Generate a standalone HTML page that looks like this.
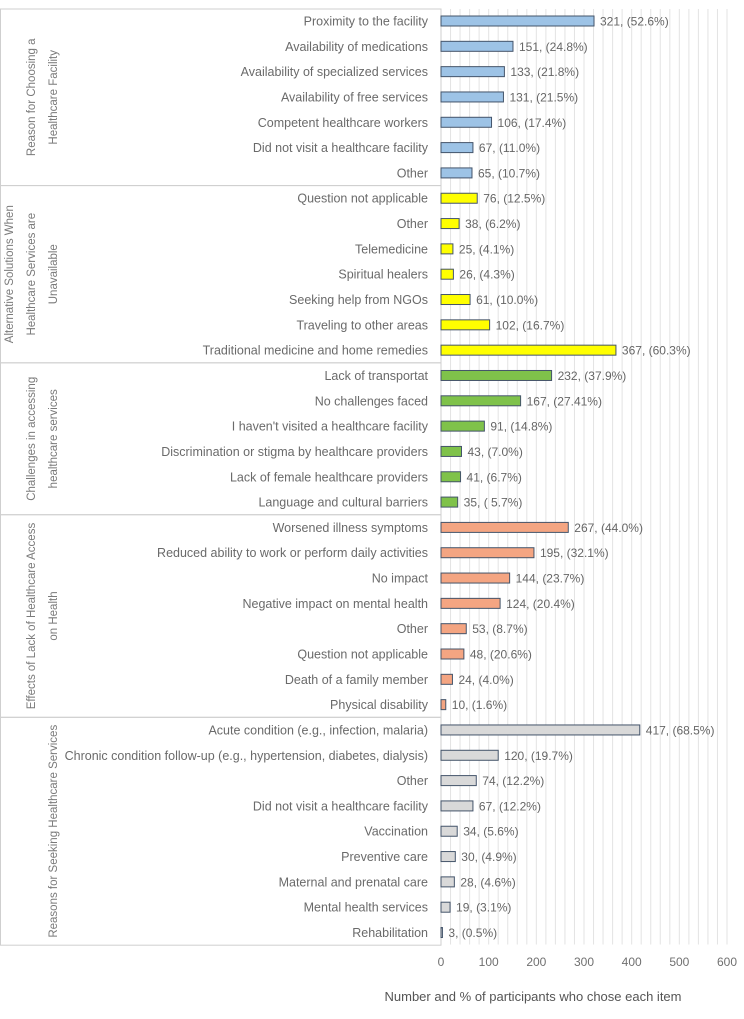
<!DOCTYPE html>
<html><head><meta charset="utf-8"><style>
body{margin:0;background:#fff;}
svg{display:block;font-family:"Liberation Sans",sans-serif;}
</style></head><body>
<svg id="chart" width="744" height="1019" viewBox="0 0 744 1019" xmlns="http://www.w3.org/2000/svg"></svg>
<script>
const groupNames=["Reason for Choosing a|Healthcare Facility","Alternative Solutions When|Healthcare Services are|Unavailable","Challenges in accessing|healthcare services","Effects of Lack of Healthcare Access|on Health","Reasons for Seeking Healthcare Services"];
const groupColors=["#9dc3e6","#ffff00","#7fc24a","#f4a582","#d9d9d9"];
const categories=[
["Proximity to the facility","Availability of medications","Availability of specialized services","Availability of free services","Competent healthcare workers","Did not visit a healthcare facility","Other"],
["Question not applicable","Other","Telemedicine","Spiritual healers","Seeking help from NGOs","Traveling to other areas","Traditional medicine and home remedies"],
["Lack of transportat","No challenges faced","I haven't visited a healthcare facility","Discrimination or stigma by healthcare providers","Lack of female healthcare providers","Language and cultural barriers"],
["Worsened illness symptoms","Reduced ability to work or perform daily activities","No impact","Negative impact on mental health","Other","Question not applicable","Death of a family member","Physical disability"],
["Acute condition (e.g., infection, malaria)","Chronic condition follow-up (e.g., hypertension, diabetes, dialysis)","Other","Did not visit a healthcare facility","Vaccination","Preventive care","Maternal and prenatal care","Mental health services","Rehabilitation"]];
const values=[[321,151,133,131,106,67,65],[76,38,25,26,61,102,367],[232,167,91,43,41,35],[267,195,144,124,53,48,24,10],[417,120,74,67,34,30,28,19,3]];
const pctLabels=[["(52.6%)","(24.8%)","(21.8%)","(21.5%)","(17.4%)","(11.0%)","(10.7%)"],["(12.5%)","(6.2%)","(4.1%)","(4.3%)","(10.0%)","(16.7%)","(60.3%)"],["(37.9%)","(27.41%)","(14.8%)","(7.0%)","(6.7%)","( 5.7%)"],["(44.0%)","(32.1%)","(23.7%)","(20.4%)","(8.7%)","(20.6%)","(4.0%)","(1.6%)"],[" (68.5%)","(19.7%)","(12.2%)","(12.2%)","(5.6%)","(4.9%)","(4.6%)","(3.1%)","(0.5%)"]];
const ticks=[0,100,200,300,400,500,600];
const svg=document.getElementById('chart');
const NS="http://www.w3.org/2000/svg";
const x0=441,x1=727,topY=9,rowH=25.32,firstY=21;
const xs=v=>x0+v/600*(x1-x0);
const ys=i=>firstY+i*rowH;
function mk(t,a){const e=document.createElementNS(NS,t);for(const k in a)e.setAttribute(k,a[k]);svg.appendChild(e);return e;}
const bottomY=ys(36)+12;
for(let v=0;v<=600;v+=20){const l=mk('line',{x1:xs(v),x2:xs(v),y1:topY,y2:bottomY,stroke:'#e3e3e3','stroke-width':1});

}
ticks.forEach(t=>{const e=mk('text',{x:xs(t),y:966,'text-anchor':'middle','font-size':12,fill:'#707070'});e.textContent=t;

});
const xt=mk('text',{x:533,y:1001,'text-anchor':'middle','font-size':13,fill:'#555'});xt.textContent="Number and % of participants who chose each item";


let idx=0;
categories.forEach((cats,g)=>{
  const gTop=idx===0?topY:ys(idx)-12.66;
  const gBot=ys(idx+cats.length-1)+12.66;
  const box=mk('rect',{x:0.5,y:gTop,width:x0-0.5,height:gBot-gTop,fill:'none',stroke:'#cfcfcf','stroke-width':1});
  
  
  const lines=groupNames[g].split('|');const cy=(gTop+gBot)/2;
  lines.forEach((ln,k)=>{const cx=54-(lines.length-1-k)*22;
    const t=mk('text',{x:cx,y:cy,'text-anchor':'middle','font-size':11.5,fill:'#7a7a7a',transform:`rotate(-90 ${cx} ${cy})`,'dominant-baseline':'middle'});t.textContent=ln;
    
    });
  cats.forEach((c,i)=>{
    const y=ys(idx);
    const l=mk('text',{x:428,y:y+4.5,'text-anchor':'end','font-size':12.5,fill:'#6a6a6a'});l.textContent=c;
    
    
    const v=values[g][i];
    const b=mk('rect',{x:x0,y:y-5,width:xs(v)-x0,height:10,fill:groupColors[g],stroke:'#44546a','stroke-width':1});
    
    
    const vl=mk('text',{x:xs(v)+6,y:y+4.5,'font-size':12,fill:'#666'});vl.textContent=v+", "+pctLabels[g][i];
    
    
    idx++;
  });
});
</script>
</body></html>
